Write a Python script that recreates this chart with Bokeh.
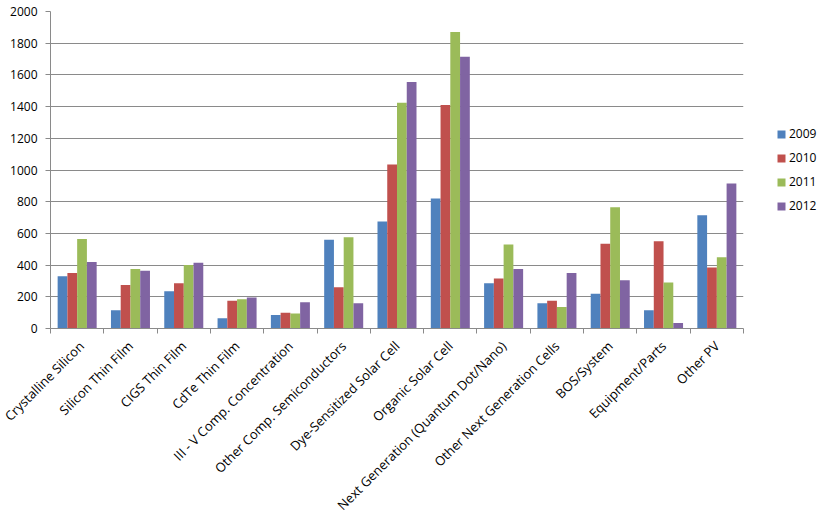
import math
from bokeh.plotting import figure
from bokeh.models import FixedTicker, Range1d, Legend, LegendItem, ColumnDataSource
from bokeh.transform import dodge
from bokeh.embed import file_html
from bokeh.resources import INLINE

categories = [
    "Crystalline Silicon", "Silicon Thin Film", "CIGS Thin Film", "CdTe Thin Film",
    "III - V Comp. Concentration", "Other Comp. Semiconductors", "Dye-Sensitized Solar Cell",
    "Organic Solar Cell", "Next Generation (Quantum Dot/Nano)", "Other Next Generation Cells",
    "BOS/System", "Equipment/Parts", "Other PV",
]
years = ["2009", "2010", "2011", "2012"]
v2009 = [330, 115, 235, 65, 85, 560, 675, 820, 285, 160, 220, 115, 715]
v2010 = [350, 275, 285, 175, 100, 260, 1035, 1410, 315, 175, 535, 550, 385]
v2011 = [565, 375, 400, 185, 95, 575, 1425, 1870, 530, 135, 765, 290, 450]
v2012 = [420, 365, 415, 195, 165, 160, 1555, 1715, 375, 350, 305, 35, 915]
colors = ["#4F81BD", "#C0504D", "#9BBB59", "#8064A2"]
y_ticks = list(range(0, 2001, 200))

FONT = "Open Sans"

centers = [i + 0.5 for i in range(len(categories))]
src = ColumnDataSource(dict(x=centers, v2009=v2009, v2010=v2010, v2011=v2011, v2012=v2012))

p = figure(
    frame_width=693, frame_height=317,
    x_range=Range1d(0, len(categories)), y_range=Range1d(0, 2000),
    output_backend="svg", toolbar_location=None,
    min_border_left=50, min_border_top=11, min_border_right=0, min_border_bottom=0,
)
p.outline_line_color = None
p.xgrid.grid_line_color = None
p.ygrid.grid_line_color = "#8a8a8a"
p.ygrid.ticker = FixedTicker(ticks=y_ticks)

bw = 0.183
series = [("v2009", years[0]), ("v2010", years[1]), ("v2011", years[2]), ("v2012", years[3])]
items = []
for k, (col, lab) in enumerate(series):
    r = p.vbar(x=dodge("x", (k - 1.5) * bw, range=p.x_range), top=col, width=bw,
               source=src, fill_color=colors[k], line_color=None)
    items.append(LegendItem(label=lab, renderers=[r]))

# y axis
ya = p.yaxis[0]
ya.ticker = FixedTicker(ticks=y_ticks)
ya.axis_line_color = "#8a8a8a"
ya.major_tick_line_color = "#8a8a8a"
ya.major_tick_out = 5
ya.major_tick_in = 0
ya.minor_tick_line_color = None
ya.major_label_text_font = FONT
ya.major_label_text_font_size = "12px"
ya.major_label_text_color = "#000000"
ya.major_label_standoff = 8

# x axis
xa = p.xaxis[0]
xa.ticker = FixedTicker(ticks=centers, minor_ticks=list(range(len(categories) + 1)))
xa.major_label_overrides = {c: n for c, n in zip(centers, categories)}
xa.major_label_orientation = math.pi / 4
xa.axis_line_color = "#8a8a8a"
xa.major_tick_line_color = None
xa.major_tick_out = 0
xa.major_tick_in = 0
xa.minor_tick_line_color = "#8a8a8a"
xa.minor_tick_out = 5
xa.minor_tick_in = 0
xa.major_label_text_font = FONT
xa.major_label_text_font_size = "13px"
xa.major_label_text_color = "#000000"
xa.major_label_standoff = 10

legend = Legend(items=items, location="center_left")
legend.border_line_color = None
legend.background_fill_alpha = 0
legend.margin = 33
legend.padding = 7
legend.glyph_width = 10
legend.glyph_height = 10
legend.label_height = 18
legend.spacing = 6
legend.label_standoff = 3
legend.label_text_font = FONT
legend.label_text_font_size = "12px"
legend.label_text_color = "#000000"
p.add_layout(legend, "right")

open("out.html", "w").write(file_html(p, INLINE))
